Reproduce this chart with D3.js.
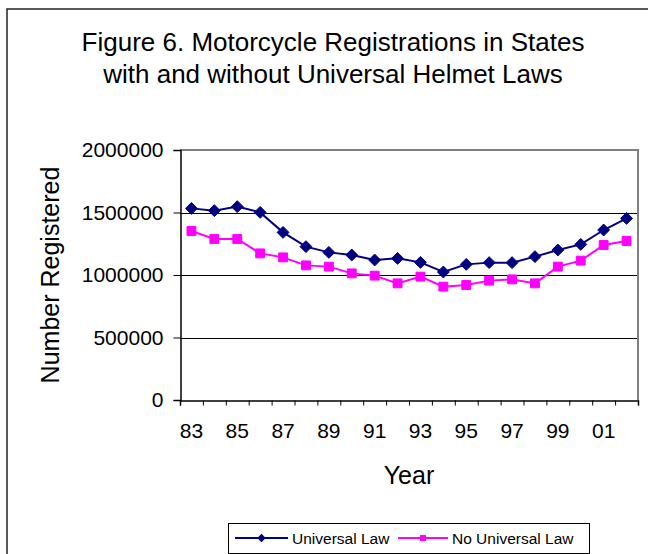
<!DOCTYPE html>
<html>
<head>
<meta charset="utf-8">
<script src="https://cdn.jsdelivr.net/npm/d3@7"></script>
<style>
  body { margin: 0; background: #fff; }
  svg { display: block; font-family: "Liberation Sans", Arial, sans-serif; }
</style>
</head>
<body>
<svg></svg>
<script>
let years = ['83','84','85','86','87','88','89','90','91','92','93','94','95','96','97','98','99','00','01','02']
let yearLabels = ['83','85','87','89','91','93','95','97','99','01']
let universalLaw = [1533000,1515000,1547000,1501000,1341000,1227000,1181000,1160000,1120000,1133000,
                    1101000,1024000,1085000,1099000,1099000,1147000,1200000,1245000,1360000,1453000]
let noUniversalLaw = [1352000,1288000,1288000,1173000,1141000,1077000,1067000,1013000,995000,933000,
                      987000,907000,920000,955000,965000,933000,1067000,1115000,1240000,1272000]
let yTicks = [0,500000,1000000,1500000,2000000]
let titleLines = ['Figure 6. Motorcycle Registrations in States', 'with and without Universal Helmet Laws']

let width = 648
let height = 554
let plotLeft = 180, plotRight = 638, plotTop = 150, plotBottom = 400

let svg = d3.select('svg')
    .attr('width', width)
    .attr('height', height)

// outer chart frame (runs off the right and bottom edge)
svg.append('rect')
    .attr('x', 7).attr('y', 9)
    .attr('width', 700).attr('height', 600)
    .attr('fill', 'none')
    .attr('stroke', '#222')
    .attr('stroke-width', 1.5)

let xScale = d3.scaleBand()
    .domain(years)
    .range([plotLeft, plotRight])
    .padding(0)

let yScale = d3.scaleLinear()
    .domain([0, 2000000])
    .range([plotBottom, plotTop])

// gridlines
svg.append('g')
    .selectAll('line')
    .data(yTicks.filter(d => d > 0 && d < 2000000))
    .enter()
    .append('line')
    .attr('x1', plotLeft).attr('x2', plotRight)
    .attr('y1', d => Math.round(yScale(d)) + 0.5)
    .attr('y2', d => Math.round(yScale(d)) + 0.5)
    .attr('stroke', '#000')
    .attr('stroke-width', 1)

// plot border top/right
svg.append('path')
    .attr('d', 'M' + plotLeft + ',' + plotTop + 'H' + plotRight + 'V' + plotBottom)
    .attr('fill', 'none')
    .attr('stroke', '#808080')
    .attr('stroke-width', 2)

// y axis
let yAxis = d3.axisLeft(yScale)
    .tickValues(yTicks)
    .tickSize(7)
    .tickPadding(10)
    .tickFormat(d3.format('d'))

svg.append('g')
    .attr('transform', 'translate(' + (plotLeft + 0.5) + ',0)')
    .call(yAxis)
    .call(g => g.select('.domain').attr('stroke', '#000').attr('stroke-width', 1.5))
    .call(g => g.selectAll('text').attr('font-size', 21).attr('fill', '#000').attr('font-family', '"Liberation Sans", Arial, sans-serif'))

// x axis tick marks at category boundaries
let edgeScale = d3.scaleLinear().domain([0, years.length]).range([plotLeft, plotRight])
svg.append('g')
    .attr('transform', 'translate(0,' + (plotBottom + 0.5) + ')')
    .call(d3.axisBottom(edgeScale).tickValues(d3.range(years.length + 1)).tickSize(5).tickFormat(''))
    .call(g => g.select('.domain').attr('stroke', '#000').attr('stroke-width', 1.5))

// x axis labels
svg.append('g')
    .attr('transform', 'translate(0,' + plotBottom + ')')
    .call(d3.axisBottom(xScale).tickValues(yearLabels).tickSize(0).tickPadding(23))
    .call(g => g.select('.domain').remove())
    .call(g => g.selectAll('text').attr('font-size', 21).attr('fill', '#000').attr('font-family', '"Liberation Sans", Arial, sans-serif'))

let line = d3.line()
    .x((d, i) => xScale(years[i]) + xScale.bandwidth() / 2)
    .y(d => yScale(d))

let series = [
    { name: 'Universal Law', values: universalLaw, color: '#000080', symbol: d3.symbolDiamond2, size: 90 },
    { name: 'No Universal Law', values: noUniversalLaw, color: '#ff00ff', symbol: d3.symbolSquare2, size: 100 }
]

series.forEach(s => {
    svg.append('path')
        .datum(s.values)
        .attr('d', line)
        .attr('fill', 'none')
        .attr('stroke', s.color)
        .attr('stroke-width', 2)

    svg.append('g')
        .selectAll('path')
        .data(s.values)
        .enter()
        .append('path')
        .attr('d', d3.symbol().type(s.symbol).size(s.size))
        .attr('transform', (d, i) => 'translate(' + (xScale(years[i]) + xScale.bandwidth() / 2) + ',' + yScale(d) + ')')
        .attr('fill', s.color)
        .attr('stroke', s.color)
        .attr('stroke-width', 1)
})

// title
svg.append('g')
    .selectAll('text')
    .data(titleLines)
    .enter()
    .append('text')
    .attr('x', 333)
    .attr('y', (d, i) => 51 + i * 32)
    .attr('text-anchor', 'middle')
    .attr('font-size', 26)
    .text(d => d)

// axis titles
svg.append('text')
    .attr('transform', 'translate(59,275) rotate(-90)')
    .attr('text-anchor', 'middle')
    .attr('font-size', 25)
    .text('Number Registered')

svg.append('text')
    .attr('x', (plotLeft + plotRight) / 2)
    .attr('y', 484)
    .attr('text-anchor', 'middle')
    .attr('font-size', 25)
    .text('Year')

// legend
let legend = svg.append('g')
legend.append('rect')
    .attr('x', 228.5).attr('y', 523.5)
    .attr('width', 361).attr('height', 30)
    .attr('fill', '#fff')
    .attr('stroke', '#000')
    .attr('stroke-width', 1)

let legendItems = [
    { s: series[0], x1: 235, x2: 288, tx: 292 },
    { s: series[1], x1: 398, x2: 448, tx: 452 }
]
legendItems.forEach(d => {
    legend.append('line')
        .attr('x1', d.x1).attr('x2', d.x2)
        .attr('y1', 538).attr('y2', 538)
        .attr('stroke', d.s.color)
        .attr('stroke-width', 2)
    legend.append('path')
        .attr('d', d3.symbol().type(d.s.symbol).size(45))
        .attr('transform', 'translate(' + ((d.x1 + d.x2) / 2) + ',538)')
        .attr('fill', d.s.color)
    legend.append('text')
        .attr('x', d.tx)
        .attr('y', 544)
        .attr('font-size', 15.5)
        .text(d.s.name)
})
</script>
</body>
</html>
